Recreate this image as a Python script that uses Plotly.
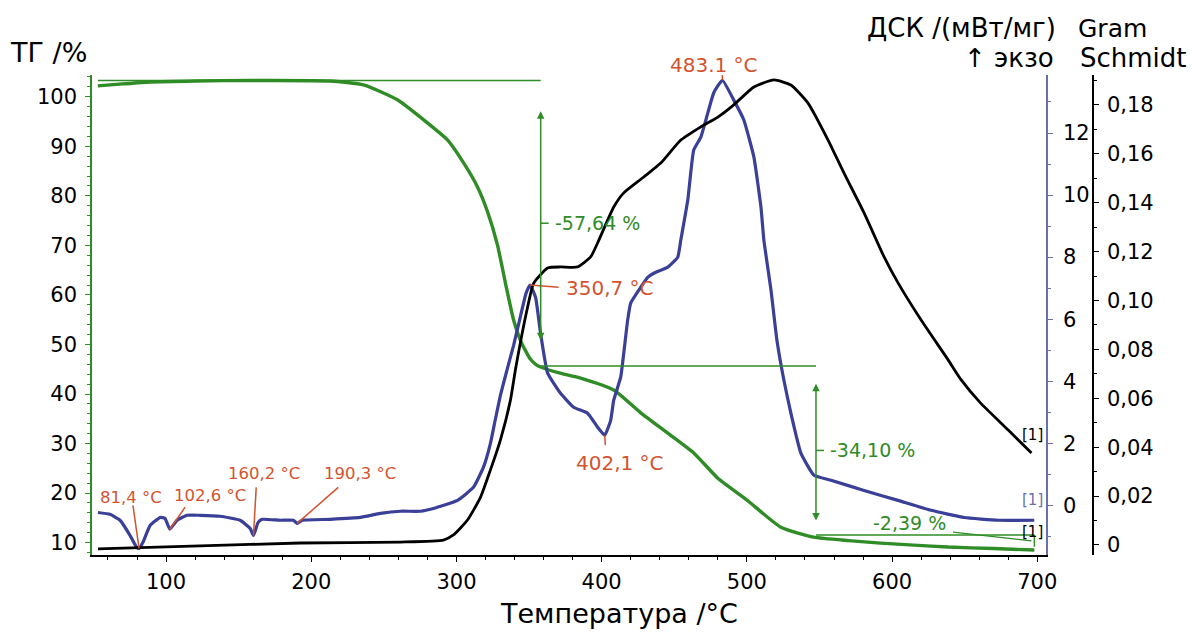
import plotly.graph_objects as go

# ---- TG: mass (%) vs temperature (°C)
tg_temp = [53, 70, 89, 120, 158, 213, 236, 259.3, 277.2, 293.8, 304.8, 314.5, 321.4, 328.3, 334,
           339.3, 345, 351, 355, 359.3, 370, 385.5, 408.3, 426.9, 445.5, 463.4, 480, 500, 523.4, 546,
           570, 592, 615, 638.6, 670, 698]
tg_mass = [102.2, 102.6, 103.0, 103.2, 103.3, 103.2, 102.4, 99.4, 95.4, 91.3, 86.7, 81.8, 76.8, 70.0, 62.0,
           55.0, 50.2, 47.0, 45.9, 45.3, 44.3, 43.2, 40.8, 36.2, 32.1, 28.1, 23.0, 18.6, 13.1, 11.1,
           10.4, 9.9, 9.5, 9.1, 8.8, 8.5]

# ---- DSC: heat flow (mW/mg), exo up
dsc_temp = [53.1, 61.4, 68.3, 75.2, 79.3, 81.4, 84.1, 89, 95.9, 99.3, 102.6, 107.6, 114.5, 123.4, 137.2,
            151, 157.9, 160.2, 163.4, 166.2, 178.6, 187.6, 190.3, 193.8, 213.1, 233.8, 247.6, 261.4, 275.2,
            284.1, 300.7, 311.7, 318.6, 323.4, 326.9, 330.3, 335, 339.3, 344.1, 348, 350.7, 354.5, 357.9,
            362.8, 371.7, 380.7, 390.3, 397.2, 402.1, 406.2, 408.3, 413.1, 415.2, 417.9, 420, 426.9, 431.7,
            435.9, 445.5, 452.4, 454.5, 459.3, 463.4, 468.3, 473.1, 477.2, 483.1, 491, 497.9, 504.8, 509.7,
            511.7, 516.6, 520.7, 525.5, 530.3, 537.2, 546.2, 557.9, 580.7, 604.1, 626.9, 649.7, 673.1, 697.9]
dsc_val = [-0.23, -0.29, -0.48, -0.97, -1.32, -1.39, -1.19, -0.65, -0.39, -0.42, -0.77, -0.48, -0.32, -0.32, -0.35,
           -0.48, -0.74, -0.97, -0.55, -0.45, -0.48, -0.48, -0.58, -0.48, -0.45, -0.39, -0.26, -0.19, -0.19,
           -0.10, 0.16, 0.58, 1.23, 2.00, 2.80, 3.55, 4.40, 5.15, 6.10, 6.85, 7.10, 6.70, 5.55,
           4.26, 3.61, 3.16, 2.97, 2.52, 2.26, 2.74, 3.39, 4.13, 4.90, 5.97, 6.52, 7.03, 7.35,
           7.48, 7.68, 8.00, 8.55, 9.84, 11.45, 11.87, 12.65, 13.30, 13.70, 13.06, 12.42, 11.23, 9.61,
           8.55, 6.94, 5.32, 4.03, 2.97, 1.68, 0.97, 0.81, 0.48, 0.16, -0.16, -0.39, -0.48, -0.48]

# ---- Gram-Schmidt (FTIR) intensity
gs_temp = [53.1, 123.4, 192.4, 261.4, 291, 297.9, 307.6, 316.6, 323.4, 330.3, 337.2, 340.7, 349, 353.1,
           362.8, 371.7, 383.4, 392.4, 397.2, 408.3, 415.2, 429, 440.7, 454.5, 468.3, 480, 491, 504.8,
           518.6, 530.3, 542, 555.9, 566.9, 580.7, 594.5, 604.1, 620, 638.6, 647.6, 661, 680, 696]
gs_val = [-0.0016, -0.0004, 0.0008, 0.0012, 0.0020, 0.0041, 0.0102, 0.0196, 0.0307, 0.0430, 0.0593, 0.0720,
          0.0973, 0.1070, 0.1133, 0.1137, 0.1137, 0.1178, 0.1235, 0.1382, 0.1440, 0.1505, 0.1562, 0.1656,
          0.1710, 0.1750, 0.1800, 0.1873, 0.1902, 0.1881, 0.1808, 0.1656, 0.1521, 0.1358, 0.1178, 0.1072,
          0.0920, 0.0757, 0.0675, 0.0580, 0.0470, 0.0376]

# ---- DSC peak labels
peak_temp = [81.4, 102.6, 160.2, 190.3, 350.7, 402.1, 483.1]
peak_text = ["81,4 °C", "102,6 °C", "160,2 °C", "190,3 °C", "350,7 °C", "402,1 °C", "483.1 °C"]

# ---- TG step evaluation
tg_start_level = 103.3
tg_steps = [-57.64, -34.10, -2.39]
tg_step_text = ["-57,64 %", "-34,10 %", "-2,39 %"]
tg_step_end = [358.0, 547.6, 698.0]

# ---- axis ticks
x_ticks = [100, 200, 300, 400, 500, 600, 700]
tg_ticks = [10, 20, 30, 40, 50, 60, 70, 80, 90, 100]
dsc_ticks = [0, 2, 4, 6, 8, 10, 12]
gs_ticks = [0, 0.02, 0.04, 0.06, 0.08, 0.10, 0.12, 0.14, 0.16, 0.18]
gs_tick_text = ["0", "0,02", "0,04", "0,06", "0,08", "0,10", "0,12", "0,14", "0,16", "0,18"]

X_RANGE = [49, 706]
TG_RANGE = [7.5, 104.4]
DSC_RANGE = [-1.6, 13.87]
GS_RANGE = [-0.0041, 0.1922]

GREEN = "#2f8c26"
BLUE = "#3a3f98"
BLUE_AXIS = "#6a6fae"
RED = "#d4532f"
FONT = "DejaVu Sans"

fig = go.Figure()
fig.add_trace(go.Scatter(x=gs_temp, y=gs_val, yaxis="y3", mode="lines",
                         line=dict(color="black", width=2.8, shape="spline", smoothing=0.5)))
fig.add_trace(go.Scatter(x=dsc_temp, y=dsc_val, yaxis="y2", mode="lines",
                         line=dict(color=BLUE, width=3.2, shape="spline", smoothing=0.4)))
fig.add_trace(go.Scatter(x=tg_temp, y=tg_mass, yaxis="y", mode="lines",
                         line=dict(color=GREEN, width=3.4, shape="spline", smoothing=0.5)))

shapes = []
annotations = []

# TG step lines, double arrows and values
levels = [tg_start_level]
for s in tg_steps:
    levels.append(levels[-1] + s)
seg_start = [tg_temp[0]] + tg_step_end[:-1]
arrow_gap = [(5.9, 5.2), (3.3, 2.9)]
for i in range(2):
    top, bot = levels[i], levels[i + 1]
    shapes.append(dict(type="line", xref="x", yref="y", x0=seg_start[i], x1=tg_step_end[i], y0=top, y1=top,
                       line=dict(color=GREEN, width=1.5)))
    xe = tg_step_end[i]
    annotations.append(dict(x=xe, y=bot + arrow_gap[i][1], ax=xe, ay=top - arrow_gap[i][0],
                            xref="x", yref="y", axref="x", ayref="y", text="", showarrow=True,
                            arrowside="end+start", arrowhead=2, arrowsize=1, arrowwidth=1.5,
                            arrowcolor=GREEN))
    mid = (top + bot) / 2
    shapes.append(dict(type="line", xref="x", yref="y", x0=xe, x1=xe + 5.5, y0=mid, y1=mid,
                       line=dict(color=GREEN, width=1.5)))
    annotations.append(dict(x=xe + 8.5, y=mid, xref="x", yref="y", text=tg_step_text[i], showarrow=False,
                            xanchor="left", yanchor="middle", font=dict(family=FONT, size=19, color=GREEN)))
# last level and the small final step
shapes.append(dict(type="line", xref="x", yref="y", x0=tg_step_end[1], x1=tg_step_end[2], y0=levels[2],
                   y1=levels[2], line=dict(color=GREEN, width=1.5)))
shapes.append(dict(type="line", xref="x", yref="y", x0=tg_step_end[2], x1=tg_step_end[2], y0=levels[2],
                   y1=levels[3], line=dict(color=GREEN, width=1.5)))
shapes.append(dict(type="line", xref="x", yref="y", x0=642, x1=tg_step_end[2] - 2,
                   y0=12.1, y1=(levels[2] + levels[3]) / 2, line=dict(color=GREEN, width=1.3)))
annotations.append(dict(x=585.5, y=13.9, xref="x", yref="y", text=tg_step_text[2], showarrow=False,
                        xanchor="left", yanchor="middle", font=dict(family=FONT, size=19, color=GREEN)))

# DSC peak labels with leader lines (label position in DSC units)
label_pos = [(75.9, 0.26), (130.3, 0.32), (167.6, 1.03), (233.8, 1.03), (373.8, 7.0), (412.4, 1.35),
             (477.2, 14.2)]
leader_from = [(77.2, 0.0), (113.1, -0.06), (162.1, 0.58), (218.6, 0.58), (370.3, 7.03), (402.5, 1.94),
               (483.1, 14.1)]
peak_val = [dsc_val[dsc_temp.index(t)] for t in peak_temp]
for i, t in enumerate(peak_temp):
    fx, fy = leader_from[i]
    shapes.append(dict(type="line", xref="x", yref="y2", x0=fx, y0=fy, x1=t, y1=peak_val[i],
                       line=dict(color=RED, width=1.5)))
    lx, ly = label_pos[i]
    big = i >= 4
    font = dict(family=FONT, size=20 if big else 16.5, color=RED)
    anchor = "left" if i == 4 else "center"
    if DSC_RANGE[0] <= ly <= DSC_RANGE[1]:
        annotations.append(dict(x=lx, y=ly, xref="x", yref="y2", text=peak_text[i], showarrow=False,
                                xanchor=anchor, yanchor="middle", font=font))
    else:
        # label sits above the plotting area: place it in paper units
        yp = (ly - DSC_RANGE[0]) / (DSC_RANGE[1] - DSC_RANGE[0])
        annotations.append(dict(x=lx, y=yp, xref="x", yref="paper", text=peak_text[i], showarrow=False,
                                xanchor=anchor, yanchor="middle", font=font))

# curve end markers
annotations += [
    dict(x=697, y=0.045, xref="x", yref="y3", text="[1]", showarrow=False,
         font=dict(family=FONT, size=15, color="black")),
    dict(x=697, y=0.16, xref="x", yref="y2", text="[1]", showarrow=False,
         font=dict(family=FONT, size=15, color=BLUE_AXIS)),
    dict(x=697, y=12.1, xref="x", yref="y", text="[1]", showarrow=False,
         font=dict(family=FONT, size=15, color="black")),
]

# axis titles
W, H = 1008.0, 480.0
L, T = 92.0, 75.0
def px(xp):
    return (xp - L) / W
def py(yp):
    return (T + H - yp) / H

title_font = dict(family=FONT, size=26, color="black")
annotations += [
    dict(x=px(8), y=py(52), xref="paper", yref="paper", text="ТГ /%", showarrow=False,
         xanchor="left", yanchor="middle", font=dict(family=FONT, size=27, color="black")),
    dict(x=px(1058), y=py(28), xref="paper", yref="paper", text="ДСК /(мВт/мг)", showarrow=False,
         xanchor="right", yanchor="middle", font=title_font),
    dict(x=px(1056), y=py(58), xref="paper", yref="paper", text="↑ экзо", showarrow=False,
         xanchor="right", yanchor="middle", font=title_font),
    dict(x=px(1076), y=py(28), xref="paper", yref="paper", text="Gram", showarrow=False,
         xanchor="left", yanchor="middle", font=dict(family=FONT, size=25, color="black")),
    dict(x=px(1078), y=py(58), xref="paper", yref="paper", text="Schmidt", showarrow=False,
         xanchor="left", yanchor="middle", font=title_font),
    dict(x=px(619), y=py(613), xref="paper", yref="paper", text="Температура /°C", showarrow=False,
         xanchor="center", yanchor="middle", font=dict(family=FONT, size=27, color="black")),
]

tick_font = dict(family=FONT, size=21, color="black")
fig.update_layout(
    width=1192, height=632,
    margin=dict(l=92, r=92, t=75, b=77),
    paper_bgcolor="white", plot_bgcolor="white",
    showlegend=False,
    font=dict(family=FONT),
    xaxis=dict(domain=[0, 954 / W], range=X_RANGE, showgrid=False, zeroline=False,
               showline=True, linecolor="black", linewidth=1.5, ticks="outside", ticklen=5,
               tickcolor="black", tickmode="array", tickvals=x_ticks, tickfont=tick_font,
               ticklabelstandoff=2,
               minor=dict(tickmode="linear", tick0=0, dtick=20, ticks="outside", ticklen=3,
                          tickcolor="black")),
    yaxis=dict(range=TG_RANGE, showgrid=False, zeroline=False, showline=True, linecolor=GREEN,
               linewidth=1.5, ticks="outside", ticklen=5, tickcolor=GREEN, tickmode="array",
               tickvals=tg_ticks, tickfont=tick_font, ticklabelstandoff=4,
               minor=dict(tickmode="linear", tick0=0, dtick=2, ticks="outside", ticklen=3,
                          tickcolor=GREEN)),
    yaxis2=dict(range=DSC_RANGE, overlaying="y", side="right", anchor="x", showgrid=False,
                zeroline=False, showline=True, linecolor=BLUE_AXIS, linewidth=1.5, ticks="outside",
                ticklen=5, tickcolor=BLUE_AXIS, tickmode="array", tickvals=dsc_ticks, tickfont=tick_font,
                ticklabelstandoff=6,
                minor=dict(tickmode="linear", tick0=0, dtick=1, ticks="outside", ticklen=3,
                           tickcolor=BLUE_AXIS)),
    yaxis3=dict(range=GS_RANGE, overlaying="y", side="right", anchor="free",
                position=(1093 - L) / W, showgrid=False, zeroline=False, showline=True,
                linecolor="black", linewidth=1.5, ticks="outside", ticklen=5, tickcolor="black",
                tickmode="array", tickvals=gs_ticks, ticktext=gs_tick_text, tickfont=tick_font,
                ticklabelstandoff=4,
                minor=dict(tickmode="linear", tick0=0, dtick=0.01, ticks="outside", ticklen=3,
                           tickcolor="black")),
    shapes=shapes,
    annotations=annotations,
)

fig.write_html("out.html")
